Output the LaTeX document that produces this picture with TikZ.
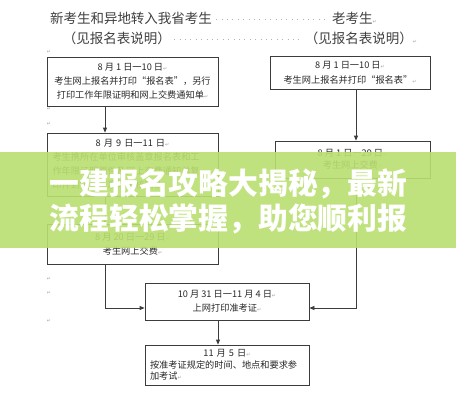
\documentclass[tikz,border=0pt]{standalone}
\usepackage{fontspec}
\setmainfont{Noto Sans CJK SC}
\newfontfamily\dejavu{DejaVu Sans}
\usetikzlibrary{arrows.meta,calc}
\definecolor{bannergreen}{RGB}{186,223,112}
\definecolor{boxline}{RGB}{60,60,60}
\definecolor{txt}{RGB}{40,40,40}
\newcommand\retmark{{\dejavu\fontsize{5}{5}\selectfont\color{gray!70}↵}}
\begin{document}
\begin{tikzpicture}[x=1pt,y=-1pt,
  box/.style={draw=boxline, line width=0.8pt, inner sep=0pt, text=txt,
    font=\fontsize{9.2}{14}\selectfont, align=center},
  arr/.style={draw=boxline, line width=0.8pt, -{Triangle[length=5pt,width=4pt]}},
  ttl/.style={font=\fontsize{13.5}{15}\selectfont, text=black!75, inner sep=0pt},
  dotline/.style={draw=gray!60, line width=0.9pt, dash pattern=on 0.9pt off 4.5pt},
  retn/.style={inner sep=0pt},
  ban/.style={font=\fontsize{29.8}{30}\selectfont\bfseries, text=white, inner sep=0pt}]
\useasboundingbox (0,0) rectangle (456,400);
\fill[white] (0,0) rectangle (456,400);

% titles
\node[ttl] (t1) at (131,18) {新考生和异地转入我省考生};
\node[ttl] (t2) at (117,38) {（见报名表说明）};
\node[ttl] (t3) at (354.5,18) {老考生\retmark};
\node[ttl] (t4) at (361,38) {（见报名表说明）\retmark};
\draw[dotline] (t1.east) ++(4,1) -- ([xshift=-3pt,yshift=-1pt]t3.west);
\draw[dotline] (t2.east) ++(3,1) -- ([xshift=-3pt,yshift=-1pt]t4.west);

% left column
\node[box, minimum width=171pt, minimum height=49pt] (a) at (132.5,81.5)
  {8 月 1 日一10 日\retmark\\考生网上报名并打印“报名表”，另行\\打印工作年限证明和网上交费通知单\retmark};
\node[box, minimum width=171pt, minimum height=63pt, text width=160pt, align=left] (b) at (132.5,164.5)
  {{\centering 8 月 9 日一11 日\retmark\par}考生携所在单位审核盖章报名表和工\\作年限证明原件及网上交费通知单复\\印件到报名点现场审核确认\retmark};
\node[box, minimum width=171pt, minimum height=40pt] (c) at (132.5,244)
  {8 月 20 日一29 日\retmark\\考生网上交费\retmark};

% right column
\node[box, minimum width=160pt, minimum height=33pt, font=\fontsize{9.2}{15}\selectfont] (r1) at (350,72.5)
  {8 月 1 日一10 日\retmark\\考生网上报名并打印“报名表”\retmark};
\node[box, minimum width=155pt, minimum height=37pt, font=\fontsize{9.2}{12.5}\selectfont] (r2) at (352.5,159.5)
  {8 月 1 日一29 日\retmark\\考生网上交费\retmark};

% bottom
\node[box, minimum width=164pt, minimum height=37pt] (d) at (227,301.5)
  {10 月 31 日一11 月 4 日\retmark\\上网打印准考证\retmark};
\node[box, minimum width=164pt, minimum height=40pt, text width=154pt, align=left,
  font=\fontsize{9.2}{11.3}\selectfont] (e) at (227,365)
  {{\centering 11 月 5 日\retmark\par}按准考证规定的时间、地点和要求参\\加考试\retmark};

% connectors
\draw[arr] ([xshift=-27.5pt]a.south) -- ([xshift=-27.5pt]b.north);
\draw[arr] ([xshift=-27.5pt]b.south) -- ([xshift=-27.5pt]c.north);
\draw[arr] ([xshift=-27.5pt]c.south) |- ([yshift=-6.5pt]d.west);
\draw[arr] ([xshift=6pt]r1.south) -- ([xshift=3.5pt]r2.north);
\draw[arr] ([xshift=3.5pt]r2.south) |- ([yshift=-6.5pt]d.east);
\draw[arr] ([xshift=-9pt]d.south) -- ([xshift=-9pt]e.north);

% paragraph marks in margin
\node[retn] (m1) at (49,52) {\retmark};
\node[retn] (m2) at (49,109) {\retmark};
\node[retn] (m3) at (49,124) {\retmark};
\node[retn] (m4) at (49,279) {\retmark};
\node[retn] (m5) at (49,293) {\retmark};
\node[retn] (m6) at (49,321) {\retmark};

% banner
\fill[bannergreen, opacity=0.9] (0,152) rectangle (456,248);
\node[ban] (l1) at (228.5,184) {一建报名攻略大揭秘，最新};
\node[ban] (l2) at (228.5,219) {流程轻松掌握，助您顺利报};
\end{tikzpicture}
\end{document}
